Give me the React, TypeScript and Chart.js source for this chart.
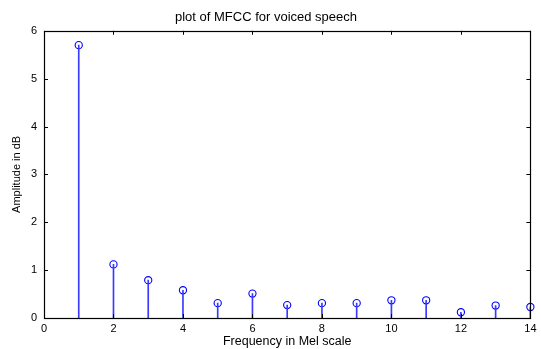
import React, { useEffect, useRef } from "react";
import { Chart, registerables } from "chart.js";

Chart.register(...registerables);

const melIndex = [1, 2, 3, 4, 5, 6, 7, 8, 9, 10, 11, 12, 13, 14];
const mfccValues = [5.7, 1.12, 0.79, 0.58, 0.31, 0.51, 0.27, 0.31, 0.31, 0.37, 0.37, 0.12, 0.26, 0.23];
const xRange = [0, 14];
const yRange = [0, 6];
const xStep = 2;
const yStep = 1;
const titleText = "plot of MFCC for voiced speech";
const xTitle = "Frequency in Mel scale";
const yTitle = "Amplitude in dB";

const FONT = "'Liberation Sans', Arial, Helvetica, sans-serif";

const boxTicksPlugin = {
  id: "boxTicks",
  afterDatasetsDraw(chart: any) {
    const { ctx, chartArea } = chart;
    const { left, right, top, bottom } = chartArea;
    const xs = chart.scales.x;
    const ys = chart.scales.y;
    const len = 4;
    ctx.save();
    ctx.strokeStyle = "#000";
    ctx.lineWidth = 1;
    ctx.beginPath();
    xs.ticks.forEach((t: any) => {
      const px = Math.round(xs.getPixelForValue(t.value)) + 0.5;
      ctx.moveTo(px, bottom);
      ctx.lineTo(px, bottom - len);
      ctx.moveTo(px, top);
      ctx.lineTo(px, top + len);
    });
    ys.ticks.forEach((t: any) => {
      const py = Math.round(ys.getPixelForValue(t.value)) + 0.5;
      ctx.moveTo(left, py);
      ctx.lineTo(left + len, py);
      ctx.moveTo(right, py);
      ctx.lineTo(right - len, py);
    });
    ctx.stroke();
    ctx.lineWidth = 1.2;
    ctx.strokeRect(Math.round(left) + 0.5, Math.round(top) + 0.5, Math.round(right - left), Math.round(bottom - top));
    ctx.restore();
  },
};

export default function App() {
  const ref = useRef<HTMLCanvasElement | null>(null);
  useEffect(() => {
    document.body.style.margin = "0";
    const canvas = ref.current;
    if (!canvas) return;
    const stems = melIndex.map((x, i) => ({ x, y: mfccValues[i] }));
    const chart = new Chart(canvas, {
      type: "bar",
      data: {
        datasets: [
          {
            type: "bar",
            data: stems,
            backgroundColor: "#3a3aff",
            borderWidth: 0,
            barThickness: 1,
          } as any,
          {
            type: "scatter",
            data: stems,
            pointStyle: "circle",
            pointRadius: 3.6,
            pointBorderWidth: 1.1,
            pointBorderColor: "#0000ff",
            pointBackgroundColor: "rgba(0,0,0,0)",
            showLine: false,
            clip: false,
          } as any,
        ],
      },
      options: {
        animation: false,
        responsive: false,
        layout: { padding: { left: 0, right: 9, top: 0, bottom: 0 } },
        plugins: {
          legend: { display: false },
          tooltip: { enabled: false },
          title: {
            display: true,
            text: titleText,
            color: "#000",
            font: { family: FONT, size: 13, weight: "normal" },
            padding: { top: 10, bottom: 5.2 },
          },
        },
        scales: {
          x: {
            type: "linear",
            min: xRange[0],
            max: xRange[1],
            offset: false,
            grid: { display: false, drawTicks: false, offset: false },
            border: { display: false },
            ticks: {
              stepSize: xStep,
              color: "#000",
              padding: 4.5,
              maxRotation: 0,
              font: { family: FONT, size: 11 },
            },
            title: {
              display: true,
              text: xTitle,
              color: "#000",
              font: { family: FONT, size: 12.5 },
              padding: { top: 0, bottom: 0 },
            },
            afterFit(scale: any) {
              scale.height = 31;
            },
          },
          y: {
            type: "linear",
            min: yRange[0],
            max: yRange[1],
            grid: { display: false, drawTicks: false },
            border: { display: false },
            ticks: {
              stepSize: yStep,
              color: "#000",
              padding: 7,
              font: { family: FONT, size: 11 },
            },
            title: {
              display: true,
              text: yTitle,
              color: "#000",
              font: { family: FONT, size: 11 },
              padding: { top: 10, bottom: 0 },
            },
            afterFit(scale: any) {
              scale.width = 44;
            },
          },
        },
      } as any,
      plugins: [boxTicksPlugin],
    });
    return () => chart.destroy();
  }, []);
  return <canvas ref={ref} width={541} height={349} style={{ display: "block" }} />;
}
